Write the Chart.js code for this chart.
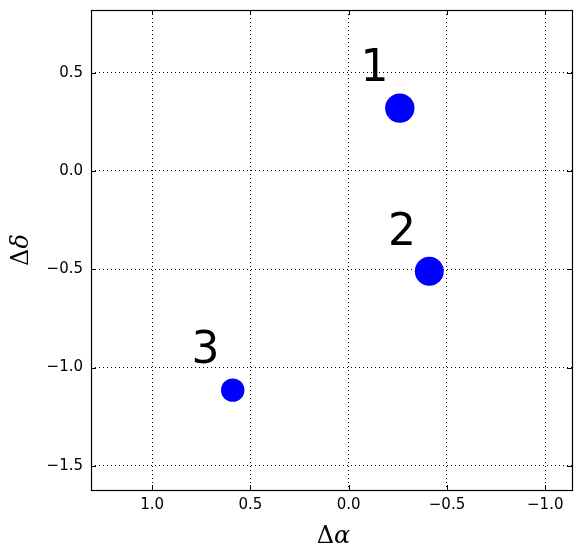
<!DOCTYPE html>
<html lang="en">
<head>
    <meta charset="UTF-8">
    <title>Offsets</title>
    <script src="https://cdn.jsdelivr.net/npm/chart.js"></script>
    <style>
        body {
            margin: 0;
            background-color: #ffffff;
        }
        #chart {
            display: block;
        }
    </style>
</head>
<body>
    <canvas id="chart" width="580" height="558"></canvas>

    <script>
        // Values
        const pointNames = ['1', '2', '3'];
        const deltaAlpha = [-0.26, -0.41, 0.59];
        const deltaDelta = [0.32, -0.51, -1.115];
        const markerRadius = [14.7, 14.5, 11.7];

        // where the number labels sit (data units)
        const labelAlpha = [-0.06, -0.20, 0.80];
        const labelDelta = [0.46, -0.375, -0.975];

        const xTicks = [1.0, 0.5, 0.0, -0.5, -1.0];
        const yTicks = [-1.5, -1.0, -0.5, 0.0, 0.5];
        const xRange = [-1.136, 1.311];
        const yRange = [-1.623, 0.819];

        function fmt(v) {
            const s = Math.abs(v).toFixed(1);
            return v < 0 ? '\u2212' + s : s;
        }

        // box round the axes, inward ticks, point labels and axis titles
        const decorations = {
            id: 'decorations',
            afterDraw(chart) {
                const ctx = chart.ctx;
                const a = chart.chartArea;
                const xs = chart.scales.x;
                const ys = chart.scales.y;
                ctx.save();

                ctx.strokeStyle = '#000';
                ctx.lineWidth = 1;
                ctx.beginPath();
                xTicks.forEach(v => {
                    const px = Math.round(xs.getPixelForValue(v)) + 0.5;
                    ctx.moveTo(px, a.bottom); ctx.lineTo(px, a.bottom - 5);
                    ctx.moveTo(px, a.top); ctx.lineTo(px, a.top + 5);
                });
                yTicks.forEach(v => {
                    const py = Math.round(ys.getPixelForValue(v)) + 0.5;
                    ctx.moveTo(a.left, py); ctx.lineTo(a.left + 5, py);
                    ctx.moveTo(a.right, py); ctx.lineTo(a.right - 5, py);
                });
                ctx.stroke();

                ctx.lineWidth = 1.2;
                ctx.strokeRect(a.left + 0.5, a.top + 0.5, a.right - a.left, a.bottom - a.top);

                // numbers beside the points
                ctx.fillStyle = '#000';
                ctx.font = '44px "DejaVu Sans"';
                ctx.textAlign = 'left';
                ctx.textBaseline = 'alphabetic';
                pointNames.forEach((name, i) => {
                    ctx.fillText(name, xs.getPixelForValue(labelAlpha[i]), ys.getPixelForValue(labelDelta[i]));
                });

                // axis titles: upright delta, italic greek letter
                const up = '24px "DejaVu Serif"';
                const it = 'italic 24px "DejaVu Serif"';
                function title(letter) {
                    ctx.font = up;
                    const w1 = ctx.measureText('\u0394').width;
                    ctx.font = it;
                    const w2 = ctx.measureText(letter).width;
                    const start = -(w1 + w2) / 2;
                    ctx.font = up;
                    ctx.fillText('\u0394', start, 0);
                    ctx.font = it;
                    ctx.fillText(letter, start + w1, 0);
                }

                ctx.save();
                ctx.translate((a.left + a.right) / 2 + 2, 543);
                title('\u03b1');
                ctx.restore();

                ctx.save();
                ctx.translate(28, (a.top + a.bottom) / 2);
                ctx.rotate(-Math.PI / 2);
                title('\u03b4');
                ctx.restore();

                ctx.restore();
            }
        };

        const ctx = document.getElementById('chart').getContext('2d');
        const chart = new Chart(ctx, {
            type: 'scatter',
            data: {
                datasets: [{
                    data: deltaAlpha.map((x, i) => ({ x: x, y: deltaDelta[i] })),
                    backgroundColor: '#0000ff',
                    borderWidth: 0,
                    pointRadius: markerRadius,
                    pointHoverRadius: markerRadius
                }]
            },
            options: {
                responsive: false,
                animation: false,
                events: [],
                layout: {
                    autoPadding: false,
                    padding: { top: 10, right: 8, left: 0, bottom: 0 }
                },
                plugins: {
                    legend: { display: false },
                    tooltip: { enabled: false }
                },
                scales: {
                    x: {
                        type: 'linear',
                        reverse: true,
                        min: xRange[0],
                        max: xRange[1],
                        afterBuildTicks: s => { s.ticks = xTicks.map(v => ({ value: v })); },
                        afterFit: s => {
                            s.height = 68;
                            s.paddingLeft = 0;
                            s.paddingRight = 0;
                        },
                        border: { display: false, dash: [1, 3] },
                        grid: {
                            color: '#000',
                            lineWidth: 1,
                            drawTicks: false
                        },
                        ticks: {
                            color: '#000',
                            padding: 6,
                            font: { family: 'DejaVu Sans', size: 15 },
                            callback: v => fmt(v)
                        }
                    },
                    y: {
                        type: 'linear',
                        min: yRange[0],
                        max: yRange[1],
                        afterBuildTicks: s => { s.ticks = yTicks.map(v => ({ value: v })); },
                        afterFit: s => {
                            s.width = 91;
                            s.paddingTop = 0;
                            s.paddingBottom = 0;
                        },
                        border: { display: false, dash: [1, 3] },
                        grid: {
                            color: '#000',
                            lineWidth: 1,
                            drawTicks: false
                        },
                        ticks: {
                            color: '#000',
                            padding: 8,
                            font: { family: 'DejaVu Sans', size: 15 },
                            callback: v => fmt(v)
                        }
                    }
                }
            },
            plugins: [decorations]
        });
    </script>
</body>
</html>
